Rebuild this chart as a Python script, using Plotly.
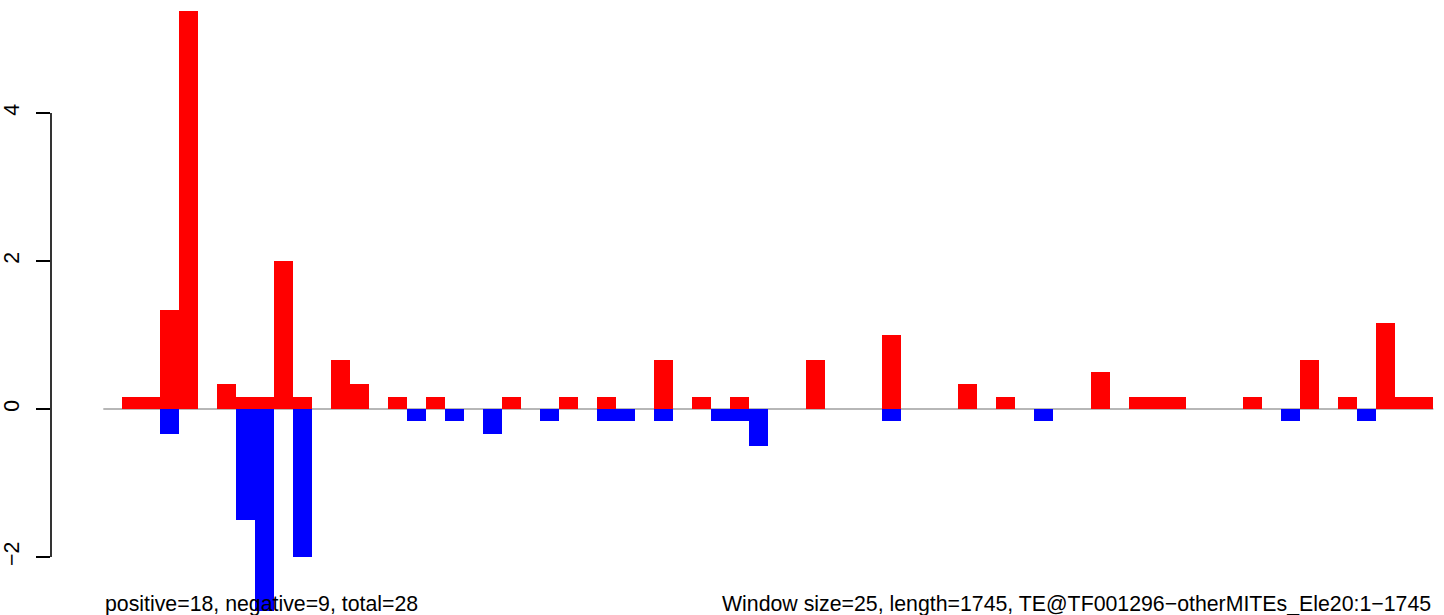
import plotly.graph_objects as go

# window index (1..70), window size 25 over length 1745
windows = list(range(1, 71))

# positive score per window (red)
pos_values = [
    0, 0.167, 0.167, 1.333, 5.38, 0, 0.333, 0.167, 0.167, 2.0,
    0.167, 0, 0.667, 0.333, 0, 0.167, 0, 0.167, 0, 0,
    0, 0.167, 0, 0, 0.167, 0, 0.167, 0, 0, 0.667,
    0, 0.167, 0, 0.167, 0, 0, 0, 0.667, 0, 0,
    0, 1.0, 0, 0, 0, 0.333, 0, 0.167, 0, 0,
    0, 0, 0.5, 0, 0.167, 0.167, 0.167, 0, 0, 0,
    0.167, 0, 0, 0.667, 0, 0.167, 0, 1.167, 0.167, 0.167,
]

# negative score per window (blue)
neg_values = [
    0, 0, 0, -0.333, 0, 0, 0, -1.5, -2.73, 0,
    -2.0, 0, 0, 0, 0, 0, -0.167, 0, -0.167, 0,
    -0.333, 0, 0, -0.167, 0, 0, -0.167, -0.167, 0, -0.167,
    0, 0, -0.167, -0.167, -0.5, 0, 0, 0, 0, 0,
    0, -0.167, 0, 0, 0, 0, 0, 0, 0, -0.167,
    0, 0, 0, 0, 0, 0, 0, 0, 0, 0,
    0, 0, -0.167, 0, 0, 0, -0.167, 0, 0, 0,
]

y_ticks = [-2, 0, 2, 4]
left_note = "positive=18, negative=9, total=28"
right_note = "Window size=25, length=1745, TE@TF001296\u2212otherMITEs_Ele20:1\u22121745"

font = "Liberation Sans, Arial, Helvetica, sans-serif"

fig = go.Figure()
fig.add_trace(go.Bar(x=windows, y=pos_values, width=1,
                     marker=dict(color="#FF0000", line=dict(width=0))))
fig.add_trace(go.Bar(x=windows, y=neg_values, width=1,
                     marker=dict(color="#0000FF", line=dict(width=0))))

x_lo = windows[0] - 0.5
x_hi = windows[-1] + 0.5

# zero line across the windows
fig.add_shape(type="line", xref="x", yref="y", x0=x_lo, x1=x_hi, y0=0, y1=0,
              line=dict(color="#707070", width=1.2), layer="below")
# R-style y axis line from first to last tick
fig.add_shape(type="line", xref="paper", yref="y", x0=0, x1=0,
              y0=y_ticks[0], y1=y_ticks[-1],
              line=dict(color="black", width=1.6))

fig.add_annotation(text=left_note, xref="x", yref="paper", x=x_lo, y=0,
                   xanchor="left", yanchor="bottom", yshift=-7, showarrow=False,
                   font=dict(size=21.3, color="black", family=font))
fig.add_annotation(text=right_note, xref="x", yref="paper", x=x_hi, y=0,
                   xanchor="right", yanchor="bottom", yshift=-7, showarrow=False,
                   font=dict(size=21.3, color="black", family=font))

fig.update_layout(
    width=1444, height=615,
    margin=dict(l=51, r=0, t=11, b=4),
    barmode="relative", bargap=0,
    showlegend=False,
    plot_bgcolor="white", paper_bgcolor="white",
    font=dict(family=font, size=21, color="black"),
    xaxis=dict(visible=False, range=[x_lo - 2.753, x_lo + 70.56]),
    yaxis=dict(range=[-2.73, 5.378], tickvals=y_ticks, ticks="outside",
               ticklen=14, tickwidth=1.6, tickcolor="black", tickangle=-90,
               tickfont=dict(size=21.3),
               showgrid=False, zeroline=False, showline=False,
               ticklabelstandoff=8),
)

fig.write_html("out.html", config={"displayModeBar": False},
               post_script="document.body.style.margin='0';")
